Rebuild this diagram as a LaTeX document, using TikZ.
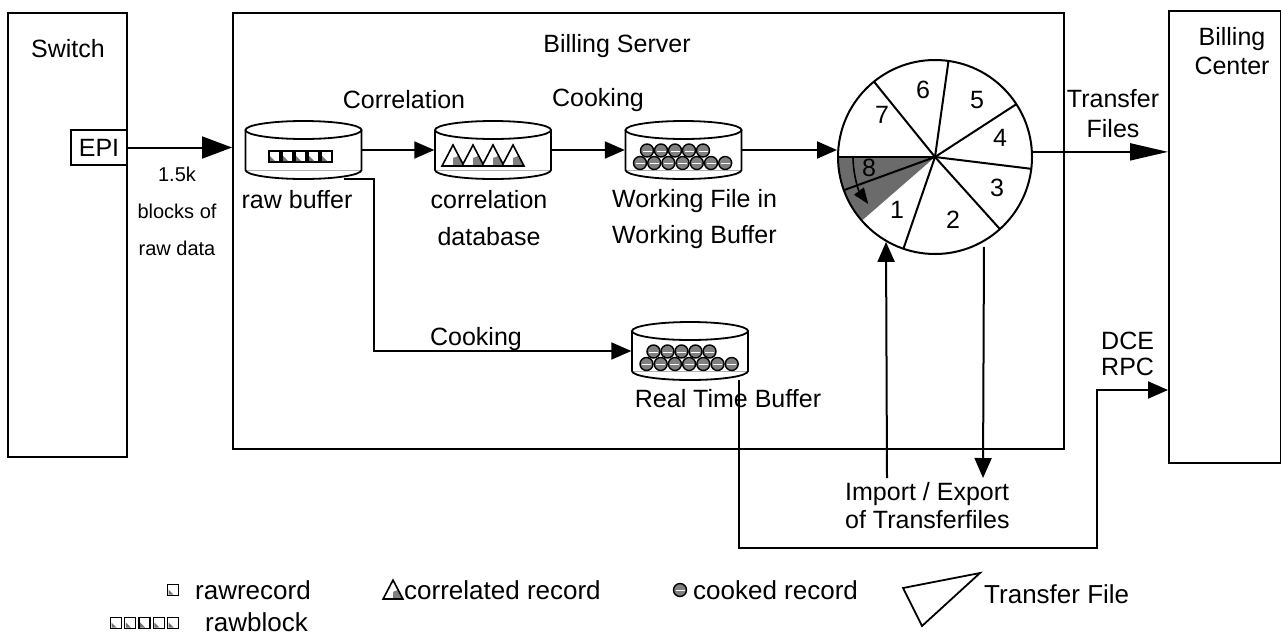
\documentclass[tikz,border=0pt]{standalone}
\usepackage{fontspec}
\setmainfont{Liberation Sans}
\usetikzlibrary{arrows.meta,calc}

\tikzset{
  % a raw record: small square with a grey corner
  rawsq/.pic={
    \draw[line width=1.3pt, fill=white] (-5.5,-5.5) rectangle (5.5,5.5);
    \fill[black!55] (-4.5,4.5) -- (0.5,4.5) -- (-4.5,-0.5) -- cycle;
  },
  rawrow/.pic={
    \foreach \i in {0,...,4} \pic at (13*\i,0) {rawsq};
  },
  % a correlated record: triangle, partly grey
  corrtri/.pic={
    \fill[white] (-11,0) -- (0,-21) -- (11,0) -- cycle;
    \fill[black!50] (0,-1) -- (10,-1) -- (5,-10) -- (0,-8) -- cycle;
    \draw[line width=1.6pt, line join=miter] (-11,0) -- (0,-21) -- (11,0) -- cycle;
  },
  trirow/.pic={
    \foreach \i in {0,...,3} \pic at (20*\i,0) {corrtri};
  },
  % a cooked record: grey ball
  ball/.pic={
    \fill[black!50] (0,0) circle[radius=6.5];
    \draw[white, line width=1pt] (-4.5,0.5) -- (4.5,0.5);
    \draw[line width=1.4pt] (0,0) circle[radius=6.5];
  },
  ballrows/.pic={
    \foreach \i in {0,...,4} \pic at (-36.5+14*\i,0.5) {ball};
    \foreach \i in {0,...,6} \pic at (-43.5+14.2*\i,13) {ball};
  },
  % a buffer drawn as a drum
  drum/.pic={
    \node[inner sep=0, minimum width=117pt, minimum height=58pt] (-box) at (0,0) {};
    \draw[black!30, line width=0.6pt] (-58,20) -- (58,20);
    \draw[line width=1.8pt] (0,-20) ellipse[x radius=58, y radius=9];
    \draw[line width=1.8pt] (-58,-20) -- (-58,20)
      arc[start angle=180, end angle=0, x radius=58, y radius=9] -- (58,-20);
  },
}

\begin{document}
\begin{tikzpicture}[x=1pt, y=-1pt,
  box/.style={draw, line width=2pt, inner sep=0, anchor=north west},
  wire/.style={line width=2pt},
  flow/.style={wire, -{Triangle[length=20pt, width=17pt]}},
  lbl/.style={inner sep=0, font=\fontsize{25}{27}\selectfont},
  small/.style={inner sep=0, font=\fontsize{20}{37}\selectfont},
  key/.style={inner sep=0, anchor=base west, font=\fontsize{26}{28}\selectfont},
]
\useasboundingbox (0,0) rectangle (1281,643);

% ---- the three systems
\node[box, minimum width=119pt, minimum height=444pt] (switch) at (7,12) {};
\node[box, minimum width=831pt, minimum height=436pt] (server) at (232,12) {};
\node[box, minimum width=112pt, minimum height=452pt] (center) at (1168,10) {};
\node[box, fill=white, minimum width=56pt, minimum height=35pt, lbl] (epi) at (70,129) {EPI};

\node[lbl, anchor=base] (switchlbl) at (68,57) {Switch};
\node[lbl, anchor=base] (serverlbl) at (617,52) {Billing Server};
\node[lbl, align=center, anchor=north, font=\fontsize{25}{29}\selectfont] (centerlbl) at (1232,27) {Billing\\Center};

% ---- buffers
\pic (rawbuf) at (303.5,150) {drum};
\pic at (274.5,156.5) {rawrow};
\pic (corr) at (493,150) {drum};
\pic at (453,166) {trirow};
\pic (work) at (683.5,150) {drum};
\pic at (683.5,150) {ballrows};
\pic (rtbuf) at (690,351) {drum};
\pic at (690,351) {ballrows};

\node[lbl, anchor=base] (rawlbl) at (297,208) {raw buffer};
\node[lbl, align=center, anchor=north, font=\fontsize{25}{37}\selectfont] (corrlbl) at (489,190) {correlation\\database};
\node[lbl, align=left, anchor=north west, font=\fontsize{25}{36}\selectfont] (worklbl) at (612,189.5) {Working File in\\Working Buffer};
\node[lbl, anchor=base] (rtlbl) at (728,407) {Real Time Buffer};

% ---- transfer file wheel
\coordinate (wc) at (935,157);
\begin{scope}[shift={(wc)}, yscale=-1]
  \fill[black!58] (0,0) -- (180:97) arc[start angle=180, end angle=221, radius=97] -- cycle;
  \foreach \a in {180,129,82,33,-7,-48,-109,200} \draw[line width=2pt] (0,0) -- (\a:97);
  \draw[line width=1.6pt, -{Triangle[length=16pt, width=12pt]}]
    (180:82) arc[start angle=180, end angle=216, radius=80];
\end{scope}
\node[circle, draw, line width=2pt, minimum size=194pt, inner sep=0] (wheel) at (wc) {};

\node[lbl] (n1) at (897,210) {1};
\node[lbl] (n2) at (953,220) {2};
\node[lbl] (n3) at (997,188) {3};
\node[lbl] (n4) at (1000,138) {4};
\node[lbl] (n5) at (977,100) {5};
\node[lbl] (n6) at (923,90) {6};
\node[lbl] (n7) at (882,115) {7};
\node[lbl] (n8) at (869,168) {8};

% ---- data flow
\draw[flow, -{Triangle[length=30pt, width=22pt]}] (epi.east) -- (epi.east -| server.west);
\node[small, align=center, anchor=north] (rawdata) at (177,167) {1.5k\\blocks of\\raw data};

\draw[flow] (rawbuf-box.east) -- (corr-box.west);
\node[lbl, anchor=base] (corrstep) at (404,108) {Correlation};
\draw[flow] (corr-box.east) -- (work-box.west);
\node[lbl, anchor=base] (cookstep) at (598,106) {Cooking};
\draw[flow] (work-box.east) -- (work-box.east -| wheel.west);

\draw[flow] ([xshift=40pt]rawbuf-box.south) -- ++(30,0) |- (rtbuf-box.west);
\node[lbl, anchor=base] (cookrt) at (476,345) {Cooking};

\draw[flow, -{Triangle[length=38pt, width=17pt]}] (wheel.3) -- (wheel.3 -| center.west);
\node[lbl, align=center, anchor=north, font=\fontsize{25}{30}\selectfont] (xferlbl) at (1113,89.5) {Transfer\\Files};

\coordinate (impfoot) at (887,478);
\coordinate (expfoot) at (983,478);
\draw[flow] (impfoot) -- (wheel.-120);
\draw[flow, shorten <=5pt] (wheel.-60) -- (expfoot);
\node[lbl, align=left, anchor=north west, font=\fontsize{25}{28}\selectfont] (implbl) at (845,482) {Import / Export\\of Transferfiles};

\coordinate (dcecorner) at (1097,548);
\draw[flow] ([xshift=49pt]rtbuf-box.south) |- (dcecorner) |- ([yshift=74pt]center.south west);
\node[lbl, align=left, anchor=north west, font=\fontsize{25}{26}\selectfont] (dcelbl) at (1101,331.5) {DCE\\RPC};

% ---- legend
\pic at (173,590) {rawsq};
\node[key] (keyrec) at (195,599) {rawrecord};
\pic[scale=1.1] at (116,623) {rawrow};
\node[key] (keyblock) at (205,631) {rawblock};
\pic[scale=0.9] at (393,599) {corrtri};
\node[key] (keycorr) at (404,599) {correlated record};
\pic at (680,590) {ball};
\node[key] (keycook) at (693,599) {cooked record};
\draw[line width=1.8pt, line join=miter] (903,588) -- (980,573) -- (922,626) -- cycle;
\node[key] (keyxfer) at (984,603) {Transfer File};
\end{tikzpicture}
\end{document}
